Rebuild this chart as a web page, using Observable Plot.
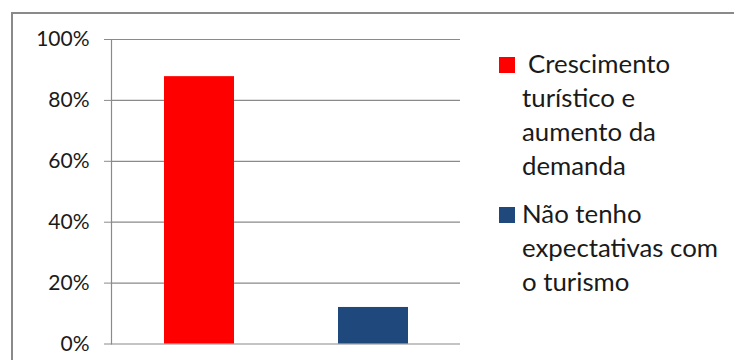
<!DOCTYPE html>
<html><head><meta charset="utf-8">
<script src="https://cdn.jsdelivr.net/npm/d3@7"></script>
<script src="https://cdn.jsdelivr.net/npm/@observablehq/plot@0.6"></script>
<style>
html,body{margin:0;padding:0;background:#fff;overflow:hidden;width:734px;height:360px;}
#chart svg{display:block;}
</style>
</head><body><div id="chart"></div>
<script>
const categories = ["Crescimento turístico e aumento da demanda", "Não tenho expectativas com o turismo"];
const values = [0.878, 0.12];
const colors = ["#ff0000", "#1f497d"];
const yTicks = [0, 0.2, 0.4, 0.6, 0.8, 1];
const legendLines = [["Crescimento", "turístico e", "aumento da", "demanda"], ["Não tenho", "expectativas com", "o turismo"]];

const FONT = "Lato, 'Open Sans', sans-serif";
const data = categories.map((c, i) => ({category: c, value: values[i]}));
const pct = d => Math.round(d * 100) + "%";

const chart = Plot.plot({
  width: 734, height: 360,
  marginLeft: 111, marginRight: 274, marginTop: 39, marginBottom: 16.5,
  style: {background: "#fff", fontFamily: FONT, fontSize: "21px", color: "#1a1a1a"},
  x: {domain: categories, axis: null, paddingInner: 0.6, paddingOuter: 0.3},
  y: {domain: [0, 1]},
  color: {domain: categories, range: colors},
  marks: [
    Plot.gridY(yTicks, {stroke: "#8a8a8a", strokeOpacity: 1, strokeWidth: 1.2}),
    Plot.frame({anchor: "left", stroke: "#8a8a8a", strokeWidth: 1.2}),
    Plot.axisY(yTicks, {tickSize: 7, tickPadding: 15, tickFormat: pct, stroke: "#8a8a8a", fill: "#1a1a1a", fontSize: 21, label: null}),
    Plot.barY(data, {x: "category", y: "value", fill: "category"})
  ]
});
document.getElementById("chart").appendChild(chart);

const svg = d3.select(chart);
svg.insert("rect", ":first-child").attr("x", 12).attr("y", 13).attr("width", 900).attr("height", 500)
  .attr("fill", "none").attr("stroke", "#8a8a8a").attr("stroke-width", 2);
const lg = svg.append("g").attr("font-family", FONT).attr("font-size", 25.8)
  .attr("fill", "#1a1a1a").attr("text-anchor", "start");
const legendTop = [57, 207];
legendLines.forEach((lines, i) => {
  const y0 = legendTop[i];
  lg.append("rect").attr("x", 499).attr("y", y0).attr("width", 16).attr("height", 16).attr("fill", colors[i]);
  lines.forEach((t, j) => {
    lg.append("text").attr("x", 522 + (i === 0 && j === 0 ? 6 : 0)).attr("y", y0 + 16 + j * 34).text(t);
  });
});
</script>
</body></html>
